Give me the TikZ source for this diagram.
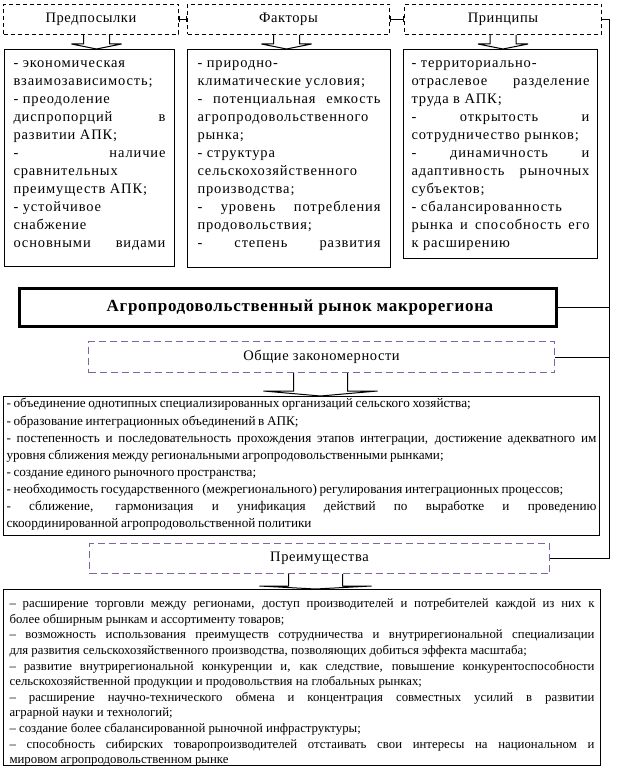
\documentclass[tikz,border=0pt]{standalone}
\usepackage{fontspec}
\setmainfont{Liberation Serif}
\newfontfamily\spc[LetterSpace=6]{Liberation Serif}
\newfontfamily\spch[LetterSpace=4]{Liberation Serif}
\newfontfamily\spcb[LetterSpace=4]{Liberation Serif}
\newfontfamily\gfont[WordSpace=0.8]{Liberation Serif}
\usetikzlibrary{arrows.meta}
\definecolor{dpurple}{RGB}{128,100,162}
\newcommand\jl[1]{\makebox[\linewidth][s]{#1}}
\newcommand\rl[1]{\makebox[\linewidth][l]{#1}}
\hbadness=10000 \hfuzz=80pt \vbadness=10000 \vfuzz=80pt
\begin{document}
\begin{tikzpicture}[x=1pt,y=-1pt,line width=1pt,
  hdr/.style={draw,dash pattern=on 4pt off 3pt,anchor=north west,inner sep=0pt,font=\spch\fontsize{14.5}{16}\selectfont},
  pbox/.style={draw=dpurple,dash pattern=on 7pt off 4pt,anchor=north west,inner sep=0pt,font=\spch\fontsize{14.5}{16}\selectfont},
  tbox/.style={draw,anchor=north west,inner ysep=11pt},
  blk/.style={draw,fill=white,line width=1pt},
  tick/.style={{Bar[width=6pt]}-{Bar[width=6pt]}},
]
\useasboundingbox (0,0) rectangle (635,770);

% headers
\node[hdr,minimum width=175pt,minimum height=30pt] (h1) at (3,4) {Предпосылки};
\node[hdr,minimum width=202pt,minimum height=30pt] (h2) at (187,4) {Факторы};
\node[hdr,minimum width=197pt,minimum height=30pt] (h3) at (404,4) {Принципы};

% top text boxes
\node[tbox,inner xsep=9pt] (b1) at (4,49) {\begin{minipage}[c][195pt][t]{152pt}\spc\fontsize{14.5}{18}\selectfont
\rl{- экономическая}\\
\rl{взаимозависимость;}\\
\rl{- преодоление}\\
\jl{диспропорций в}\\
\rl{развитии АПК;}\\
\jl{- наличие}\\
\rl{сравнительных}\\
\rl{преимуществ АПК;}\\
\rl{- устойчивое}\\
\rl{снабжение}\\
\jl{основными видами}
\end{minipage}};

\node[tbox,inner xsep=10pt] (b2) at (187,49) {\begin{minipage}[c][196pt][t]{183pt}\spc\fontsize{14.5}{18}\selectfont
\rl{- природно-}\\
\rl{климатические условия;}\\
\jl{- потенциальная емкость}\\
\rl{агропродовольственного}\\
\rl{рынка;}\\
\rl{- структура}\\
\rl{сельскохозяйственного}\\
\rl{производства;}\\
\jl{- уровень потребления}\\
\rl{продовольствия;}\\
\jl{- степень развития}
\end{minipage}};

\node[tbox,inner xsep=8pt] (b3) at (403,49) {\begin{minipage}[c][187pt][t]{178pt}\spc\fontsize{14.5}{18}\selectfont
\rl{- территориально-}\\
\jl{отраслевое разделение}\\
\rl{труда в АПК;}\\
\jl{- открытость и}\\
\rl{сотрудничество рынков;}\\
\jl{- динамичность и}\\
\jl{адаптивность рыночных}\\
\rl{субъектов;}\\
\rl{- сбалансированность}\\
\jl{рынка и способность его}\\
\rl{к расширению}
\end{minipage}};

% main
\node[draw,line width=3pt,anchor=north west,minimum width=537pt,minimum height=38pt,inner sep=0pt,font=\spcb\bfseries\fontsize{17}{19}\selectfont] (main) at (18,287) {\hspace*{24pt}Агропродовольственный рынок макрорегиона};

% dashed purple headers
\node[pbox,minimum width=466pt,minimum height=31pt] (gen) at (88,341) {Общие закономерности};
\node[pbox,minimum width=460pt,minimum height=30pt] (adv) at (89,543) {Преимущества};

% general box
\node[tbox,inner xsep=3pt,inner ysep=2pt] (gbox) at (3,396) {\begin{minipage}[c][135pt][t]{590pt}\gfont\fontsize{13.2}{17.1}\selectfont
\rl{- объединение однотипных специализированных организаций сельского хозяйства;}\\
\rl{- образование интеграционных объединений в АПК;}\\
\jl{- постепенность и последовательность прохождения этапов интеграции, достижение адекватного им}\\
\rl{уровня сближения между региональными агропродовольственными рынками;}\\
\rl{- создание единого рыночного пространства;}\\
\rl{- необходимость государственного (межрегионального) регулирования интеграционных процессов;}\\
\jl{- сближение, гармонизация и унификация действий по выработке и проведению}\\
\rl{скоординированной агропродовольственной политики}
\end{minipage}};

% advantages box
\node[tbox,inner xsep=6pt,inner ysep=9pt] (abox) at (3,589) {\begin{minipage}[c][158pt][t]{585pt}\fontsize{12.8}{15.6}\selectfont
\jl{– расширение торговли между регионами, доступ производителей и потребителей каждой из них к}\\
\rl{более обширным рынкам и ассортименту товаров;}\\
\jl{– возможность использования преимуществ сотрудничества и внутрирегиональной специализации}\\
\rl{для развития сельскохозяйственного производства, позволяющих добиться эффекта масштаба;}\\
\jl{– развитие внутрирегиональной конкуренции и, как следствие, повышение конкурентоспособности}\\
\rl{сельскохозяйственной продукции и продовольствия на глобальных рынках;}\\
\jl{– расширение научно-технического обмена и концентрация совместных усилий в развитии}\\
\rl{аграрной науки и технологий;}\\
\rl{– создание более сбалансированной рыночной инфраструктуры;}\\
\jl{– способность сибирских товаропроизводителей отстаивать свои интересы на национальном и}\\
\rl{мировом агропродовольственном рынке}
\end{minipage}};

% block arrows
\begin{scope}[shift={(h1.south)},xshift=5.5pt]
\draw[blk] (-13,0) -- (-13,9) -- (-25,9) -- (0,14) -- (25,9) -- (13,9) -- (13,0);
\end{scope}
\begin{scope}[shift={(h2.south)},xshift=-2pt]
\draw[blk] (-13,0) -- (-13,9) -- (-25,9) -- (0,14) -- (25,9) -- (13,9) -- (13,0);
\end{scope}
\begin{scope}[shift={(h3.south)}]
\draw[blk] (-13,0) -- (-13,9) -- (-25,9) -- (0,14) -- (25,9) -- (13,9) -- (13,0);
\end{scope}
\begin{scope}[shift={(gen.south)},xshift=-1pt]
\draw[blk] (-27,0) -- (-27,18) -- (-57,18) -- (0,23) -- (57,18) -- (27,18) -- (27,0);
\end{scope}
\begin{scope}[shift={(adv.south)},xshift=-4pt]
\draw[blk] (-27,0) -- (-27,12) -- (-56,12) -- (0,15) -- (56,12) -- (27,12) -- (27,0);
\end{scope}

% connectors
\coordinate (rx) at (609,0);
\draw[tick] (h1.east) -- (h2.west);
\draw[tick] (h2.east) -- (h3.west);
\draw (h3.east) -- (h3.east -| rx) -- (adv.east -| rx) -- (adv.east);
\draw (main.east) -- (main.east -| rx);
\draw (gen.east) -- (gen.east -| rx);
\end{tikzpicture}
\end{document}
